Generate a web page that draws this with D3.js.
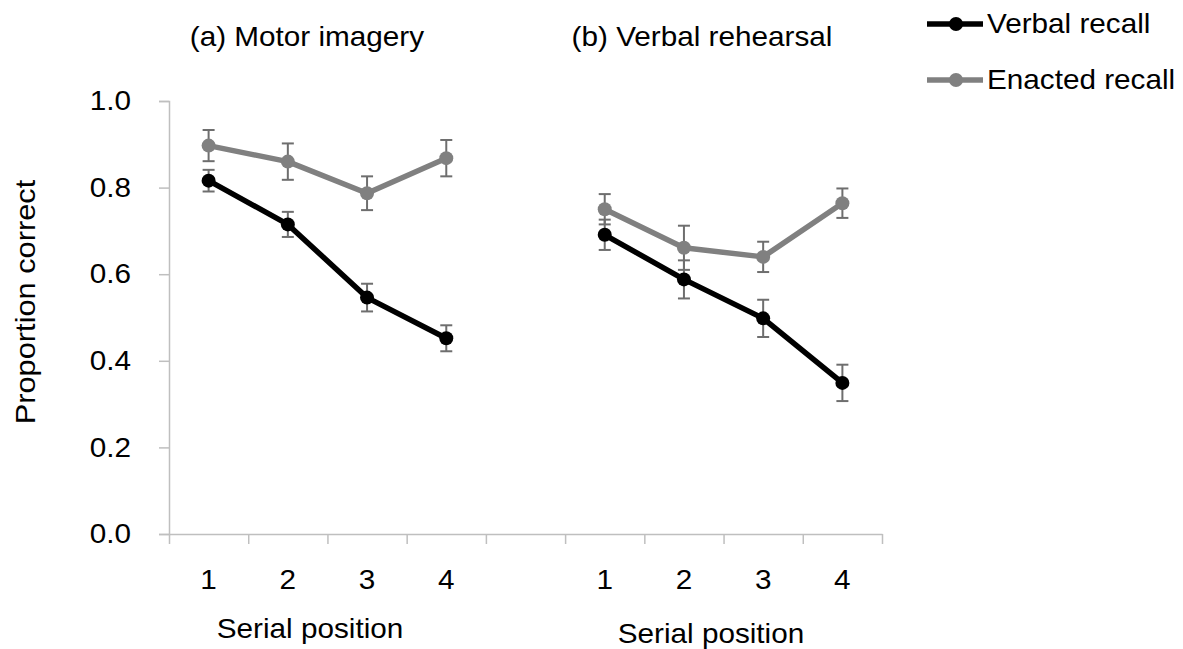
<!DOCTYPE html>
<html>
<head>
<meta charset="utf-8">
<script src="https://cdn.jsdelivr.net/npm/d3@7"></script>
<style>
  body { margin: 0; background: #fff; }
  svg text { font-family: "Liberation Sans", Arial, sans-serif; fill: #000; }
  .ytick text { transform-box: fill-box; transform-origin: right center; transform: scaleX(1.1); }
  .stretch { transform-box: fill-box; transform-origin: center; transform: scaleX(1.1); }
</style>
</head>
<body>
<div id="chart"></div>
<script>
'use strict'

// serial positions shown in each panel
const positions = ["1", "2", "3", "4"]
const panels = ["(a) Motor imagery", "(b) Verbal rehearsal"]
const yTicks = [0, 0.2, 0.4, 0.6, 0.8, 1.0]

// (a) motor imagery
const motorVerbal = [0.816, 0.715, 0.546, 0.452]
const motorVerbalErr = [0.025, 0.029, 0.032, 0.030]
const motorEnacted = [0.897, 0.860, 0.787, 0.868]
const motorEnactedErr = [0.036, 0.042, 0.039, 0.042]

// (b) verbal rehearsal
const rehearsalVerbal = [0.691, 0.588, 0.498, 0.349]
const rehearsalVerbalErr = [0.035, 0.044, 0.043, 0.042]
const rehearsalEnacted = [0.750, 0.661, 0.640, 0.764]
const rehearsalEnactedErr = [0.035, 0.051, 0.035, 0.034]

const seriesNames = ["Verbal recall", "Enacted recall"]
const seriesColors = ["#000000", "#808080"]

////////////////////////////////////
//////////// svg setup /////////////
////////////////////////////////////

const svgWidth = 1183, svgHeight = 649
const svg = d3.select('#chart').append('svg')
    .attr('width', svgWidth).attr('height', svgHeight)

const fontSize = 27

// one slot per position, plus an empty slot between the two panels
const slots = []
positions.forEach(p => slots.push("a" + p))
slots.push("gap")
positions.forEach(p => slots.push("b" + p))

const x = d3.scaleBand().domain(slots).range([169, 882]).padding(0)
const xc = k => x(k) + x.bandwidth() / 2
const xEdge = d3.scaleLinear().domain([0, slots.length]).range([169, 882])
const y = d3.scaleLinear().domain([0, 1]).range([534, 101])

////////////////////////////////////
//////////// axes //////////////////
////////////////////////////////////

const axisColor = "#bfbfbf"

const yAxis = svg.append('g')
    .attr('class', 'ytick')
    .attr('transform', `translate(${xEdge(0)},0)`)
    .call(d3.axisLeft(y).tickValues(yTicks).tickSize(10).tickPadding(28)
        .tickFormat(d3.format(".1f")))
yAxis.select('.domain').attr('stroke', axisColor).attr('stroke-width', 1.5)
yAxis.selectAll('.tick line').attr('stroke', axisColor).attr('stroke-width', 1.5)
yAxis.selectAll('.tick text').style('font-size', fontSize + 'px')
    .style('font-family', '"Liberation Sans", Arial, sans-serif').attr('fill', '#000')

const xAxis = svg.append('g')
    .attr('transform', `translate(0,${y(0)})`)
    .call(d3.axisBottom(xEdge).tickValues(d3.range(slots.length + 1)).tickSize(10)
        .tickSizeOuter(0).tickFormat(""))
xAxis.select('.domain').attr('stroke', axisColor).attr('stroke-width', 1.5)
xAxis.selectAll('.tick line').attr('stroke', axisColor).attr('stroke-width', 1.5)

// category labels under each slot
svg.append('g').selectAll('text')
    .data(slots.filter(s => s !== "gap"))
    .join('text')
    .attr('class', 'stretch')
    .attr('x', d => xc(d))
    .attr('y', 589)
    .attr('text-anchor', 'middle')
    .style('font-size', fontSize + 'px')
    .text(d => d.slice(1))

// axis titles
svg.append('text')
    .attr('transform', `translate(26,302) rotate(-90) scale(1.14,1)`)
    .attr('text-anchor', 'middle')
    .attr('dy', '0.35em')
    .style('font-size', fontSize + 'px')
    .text("Proportion correct")

const xTitles = [[310, 638], [711, 643]]
xTitles.forEach(t => {
    svg.append('text')
        .attr('class', 'stretch')
        .attr('x', t[0]).attr('y', t[1])
        .attr('text-anchor', 'middle')
        .style('font-size', fontSize + 'px')
        .text("Serial position")
})

// panel titles
const panelCenters = [307, 702]
panels.forEach((p, i) => {
    svg.append('text')
        .attr('class', 'stretch')
        .attr('x', panelCenters[i]).attr('y', 46)
        .attr('text-anchor', 'middle')
        .style('font-size', fontSize + 'px')
        .text(p)
})

////////////////////////////////////
//////////// series ////////////////
////////////////////////////////////

const series = [
    { prefix: "a", values: motorEnacted, err: motorEnactedErr, color: seriesColors[1] },
    { prefix: "a", values: motorVerbal, err: motorVerbalErr, color: seriesColors[0] },
    { prefix: "b", values: rehearsalEnacted, err: rehearsalEnactedErr, color: seriesColors[1] },
    { prefix: "b", values: rehearsalVerbal, err: rehearsalVerbalErr, color: seriesColors[0] }
]

const errColor = "#6e6e6e"
const capHalf = 6

series.forEach(s => {
    const pts = s.values.map((v, i) => ({ k: s.prefix + positions[i], v: v, e: s.err[i] }))
    const g = svg.append('g')

    // error bars
    const eb = g.append('g').selectAll('g').data(pts).join('g')
    eb.append('line')
        .attr('x1', d => xc(d.k)).attr('x2', d => xc(d.k))
        .attr('y1', d => y(d.v + d.e)).attr('y2', d => y(d.v - d.e))
        .attr('stroke', errColor).attr('stroke-width', 2)
    eb.append('line')
        .attr('x1', d => xc(d.k) - capHalf).attr('x2', d => xc(d.k) + capHalf)
        .attr('y1', d => y(d.v + d.e)).attr('y2', d => y(d.v + d.e))
        .attr('stroke', errColor).attr('stroke-width', 2)
    eb.append('line')
        .attr('x1', d => xc(d.k) - capHalf).attr('x2', d => xc(d.k) + capHalf)
        .attr('y1', d => y(d.v - d.e)).attr('y2', d => y(d.v - d.e))
        .attr('stroke', errColor).attr('stroke-width', 2)

    // line
    g.append('path')
        .datum(pts)
        .attr('fill', 'none')
        .attr('stroke', s.color)
        .attr('stroke-width', 5.5)
        .attr('stroke-linejoin', 'round')
        .attr('d', d3.line().x(d => xc(d.k)).y(d => y(d.v)))

    // markers
    g.append('g').selectAll('circle').data(pts).join('circle')
        .attr('cx', d => xc(d.k)).attr('cy', d => y(d.v))
        .attr('r', 7)
        .attr('fill', s.color)
})

////////////////////////////////////
//////////// legend ////////////////
////////////////////////////////////

const legendY = [24, 80]
seriesNames.forEach((name, i) => {
    const lg = svg.append('g').attr('transform', `translate(0,${legendY[i]})`)
    lg.append('line')
        .attr('x1', 927).attr('x2', 983).attr('y1', 0).attr('y2', 0)
        .attr('stroke', seriesColors[i]).attr('stroke-width', 5.5)
    lg.append('circle').attr('cx', 956).attr('cy', 0).attr('r', 7).attr('fill', seriesColors[i])
    lg.append('text')
        .attr('class', 'stretch')
        .attr('x', 987).attr('y', 0).attr('dy', '0.35em')
        .style('font-size', fontSize + 'px')
        .style('transform-origin', 'left center')
        .text(name)
})
</script>
</body>
</html>
